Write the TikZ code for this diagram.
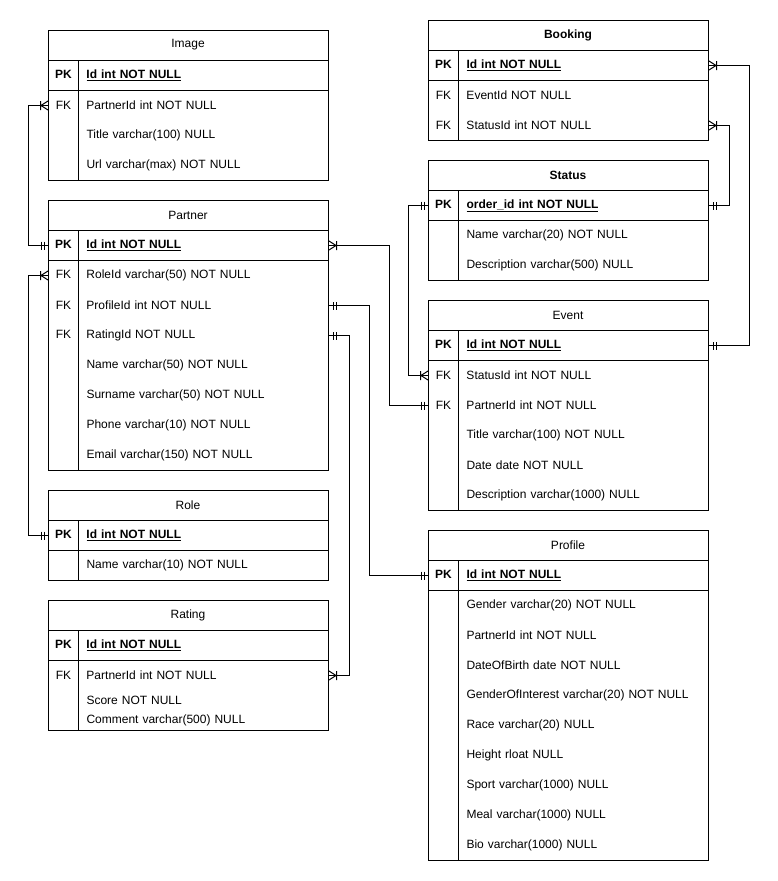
\documentclass[tikz,border=0pt]{standalone}
\usepackage{fontspec}
\setmainfont{Liberation Sans}

% crow's foot ends
\pgfdeclarearrow{
  name = ERone,
  setup code = {
    \pgfarrowssettipend{0pt}
    \pgfarrowssetlineend{0pt}
    \pgfarrowssetbackend{-8pt}
    \pgfarrowshullpoint{0pt}{4pt}
    \pgfarrowshullpoint{0pt}{-4pt}
    \pgfarrowshullpoint{-8pt}{4pt}
    \pgfarrowshullpoint{-8pt}{-4pt}
  },
  drawing code = {
    \pgfpathmoveto{\pgfqpoint{-4pt}{4pt}}
    \pgfpathlineto{\pgfqpoint{-4pt}{-4pt}}
    \pgfpathmoveto{\pgfqpoint{-7pt}{4pt}}
    \pgfpathlineto{\pgfqpoint{-7pt}{-4pt}}
    \pgfusepathqstroke
  }
}
\pgfdeclarearrow{
  name = ERmany,
  setup code = {
    \pgfarrowssettipend{0pt}
    \pgfarrowssetlineend{0pt}
    \pgfarrowssetbackend{-8pt}
    \pgfarrowshullpoint{0pt}{5pt}
    \pgfarrowshullpoint{0pt}{-5pt}
    \pgfarrowshullpoint{-8pt}{5pt}
    \pgfarrowshullpoint{-8pt}{-5pt}
  },
  drawing code = {
    \pgfpathmoveto{\pgfqpoint{0pt}{4.5pt}}
    \pgfpathlineto{\pgfqpoint{-7pt}{0pt}}
    \pgfpathlineto{\pgfqpoint{0pt}{-4.5pt}}
    \pgfpathmoveto{\pgfqpoint{-7.5pt}{4.5pt}}
    \pgfpathlineto{\pgfqpoint{-7.5pt}{-4.5pt}}
    \pgfusepathqstroke
  }
}

\newcommand{\dfont}{\fontsize{12}{14}\selectfont}
\newcommand{\kc}[1]{\noindent\makebox[30pt]{#1}\hspace{8pt}}
\newcommand{\pkrow}[1]{\kc{\textbf{PK}}\underline{\textbf{#1}}}
\newcommand{\tabframe}[1]{%
  \draw (0,0) rectangle (280,#1);
  \draw (0,30) -- (280,30) (0,60) -- (280,60) (30,30) -- (30,#1);}

\tikzset{
  head/.style={minimum width=280pt, minimum height=30pt, inner sep=0pt},
  boldhead/.style={head, font=\dfont\bfseries},
  row/.style={anchor=north west, text width=280pt, minimum height=30pt, inner sep=0pt, align=left},
  link/.style={draw, line width=1pt}
}

\begin{document}
\begin{tikzpicture}[x=1pt, y=-1pt, line width=1pt, font=\dfont]
\useasboundingbox (0,0) rectangle (778,881);

% Image
\begin{scope}[shift={(48,30)}]
  \tabframe{150}
  \node[head] (img) at (140,15) {Image};
  \node[row] (img-pk) at (0,30) {\pkrow{Id int NOT NULL}};
  \node[row] (img-1) at (0,60) {\kc{FK}PartnerId int NOT NULL};
  \foreach \f [count=\i from 2] in {Title varchar(100) NULL, Url varchar(max) NOT NULL}
    \node[row] (img-\i) at (0,30+30*\i) {\kc{}\f};
\end{scope}

% Partner
\begin{scope}[shift={(48,200)}]
  \tabframe{270}
  \node[head] (part) at (140,15) {Partner};
  \node[row] (part-pk) at (0,30) {\pkrow{Id int NOT NULL}};
  \foreach \f [count=\i] in {RoleId varchar(50) NOT NULL, ProfileId int NOT NULL, RatingId NOT NULL}
    \node[row] (part-\i) at (0,30+30*\i) {\kc{FK}\f};
  \foreach \f [count=\i from 4] in {Name varchar(50) NOT NULL, Surname varchar(50) NOT NULL, Phone varchar(10) NOT NULL, Email varchar(150) NOT NULL}
    \node[row] (part-\i) at (0,30+30*\i) {\kc{}\f};
\end{scope}

% Role
\begin{scope}[shift={(48,490)}]
  \tabframe{90}
  \node[head] (role) at (140,15) {Role};
  \node[row] (role-pk) at (0,30) {\pkrow{Id int NOT NULL}};
  \node[row] (role-1) at (0,60) {\kc{}Name varchar(10) NOT NULL};
\end{scope}

% Rating
\begin{scope}[shift={(48,600)}]
  \tabframe{130}
  \node[head] (rat) at (140,15) {Rating};
  \node[row] (rat-pk) at (0,30) {\pkrow{Id int NOT NULL}};
  \node[row] (rat-1) at (0,60) {\kc{FK}PartnerId int NOT NULL};
  \node[row, minimum height=20pt] (rat-2) at (0,90) {\kc{}Score NOT NULL};
  \node[row, minimum height=20pt] (rat-3) at (0,110) {\kc{}Comment varchar(500) NULL};
\end{scope}

% Booking
\begin{scope}[shift={(428,20)}]
  \tabframe{120}
  \node[boldhead] (book) at (140,15) {Booking};
  \node[row] (book-pk) at (0,30) {\pkrow{Id int NOT NULL}};
  \foreach \f [count=\i] in {EventId NOT NULL, StatusId int NOT NULL}
    \node[row] (book-\i) at (0,30+30*\i) {\kc{FK}\f};
\end{scope}

% Status
\begin{scope}[shift={(428,160)}]
  \tabframe{120}
  \node[boldhead] (stat) at (140,15) {Status};
  \node[row] (stat-pk) at (0,30) {\pkrow{order\_id int NOT NULL}};
  \foreach \f [count=\i] in {Name varchar(20) NOT NULL, Description varchar(500) NULL}
    \node[row] (stat-\i) at (0,30+30*\i) {\kc{}\f};
\end{scope}

% Event
\begin{scope}[shift={(428,300)}]
  \tabframe{210}
  \node[head] (evt) at (140,15) {Event};
  \node[row] (evt-pk) at (0,30) {\pkrow{Id int NOT NULL}};
  \foreach \f [count=\i] in {StatusId int NOT NULL, PartnerId int NOT NULL}
    \node[row] (evt-\i) at (0,30+30*\i) {\kc{FK}\f};
  \foreach \f [count=\i from 3] in {Title varchar(100) NOT NULL, Date date NOT NULL, Description varchar(1000) NULL}
    \node[row] (evt-\i) at (0,30+30*\i) {\kc{}\f};
\end{scope}

% Profile
\begin{scope}[shift={(428,530)}]
  \tabframe{330}
  \node[head] (prof) at (140,15) {Profile};
  \node[row] (prof-pk) at (0,30) {\pkrow{Id int NOT NULL}};
  \foreach \f [count=\i] in {Gender varchar(20) NOT NULL, PartnerId int NOT NULL, DateOfBirth date NOT NULL, GenderOfInterest varchar(20) NOT NULL, Race varchar(20) NULL, Height rloat NULL, Sport varchar(1000) NULL, Meal varchar(1000) NULL, Bio varchar(1000) NULL}
    \node[row] (prof-\i) at (0,30+30*\i) {\kc{}\f};
\end{scope}

% relations
\draw[link, {ERone}-{ERmany}] (part-pk.west) -- ++(-20,0) |- (img-1.west);
\draw[link, {ERmany}-{ERone}] (part-1.west) -- ++(-20,0) |- (role-pk.west);
\draw[link, {ERmany}-{ERone}] (part-pk.east) -- ++(60,0) |- (evt-2.west);
\draw[link, {ERone}-{ERone}] (part-2.east) -- ++(40,0) |- (prof-pk.west);
\draw[link, {ERone}-{ERmany}] (part-3.east) -- ++(20,0) |- (rat-1.east);
\draw[link, {ERmany}-{ERone}] (book-pk.east) -- ++(40,0) |- (evt-pk.east);
\draw[link, {ERmany}-{ERone}] (book-2.east) -- ++(20,0) |- (stat-pk.east);
\draw[link, {ERone}-{ERmany}] (stat-pk.west) -- ++(-20,0) |- (evt-1.west);
\end{tikzpicture}
\end{document}
